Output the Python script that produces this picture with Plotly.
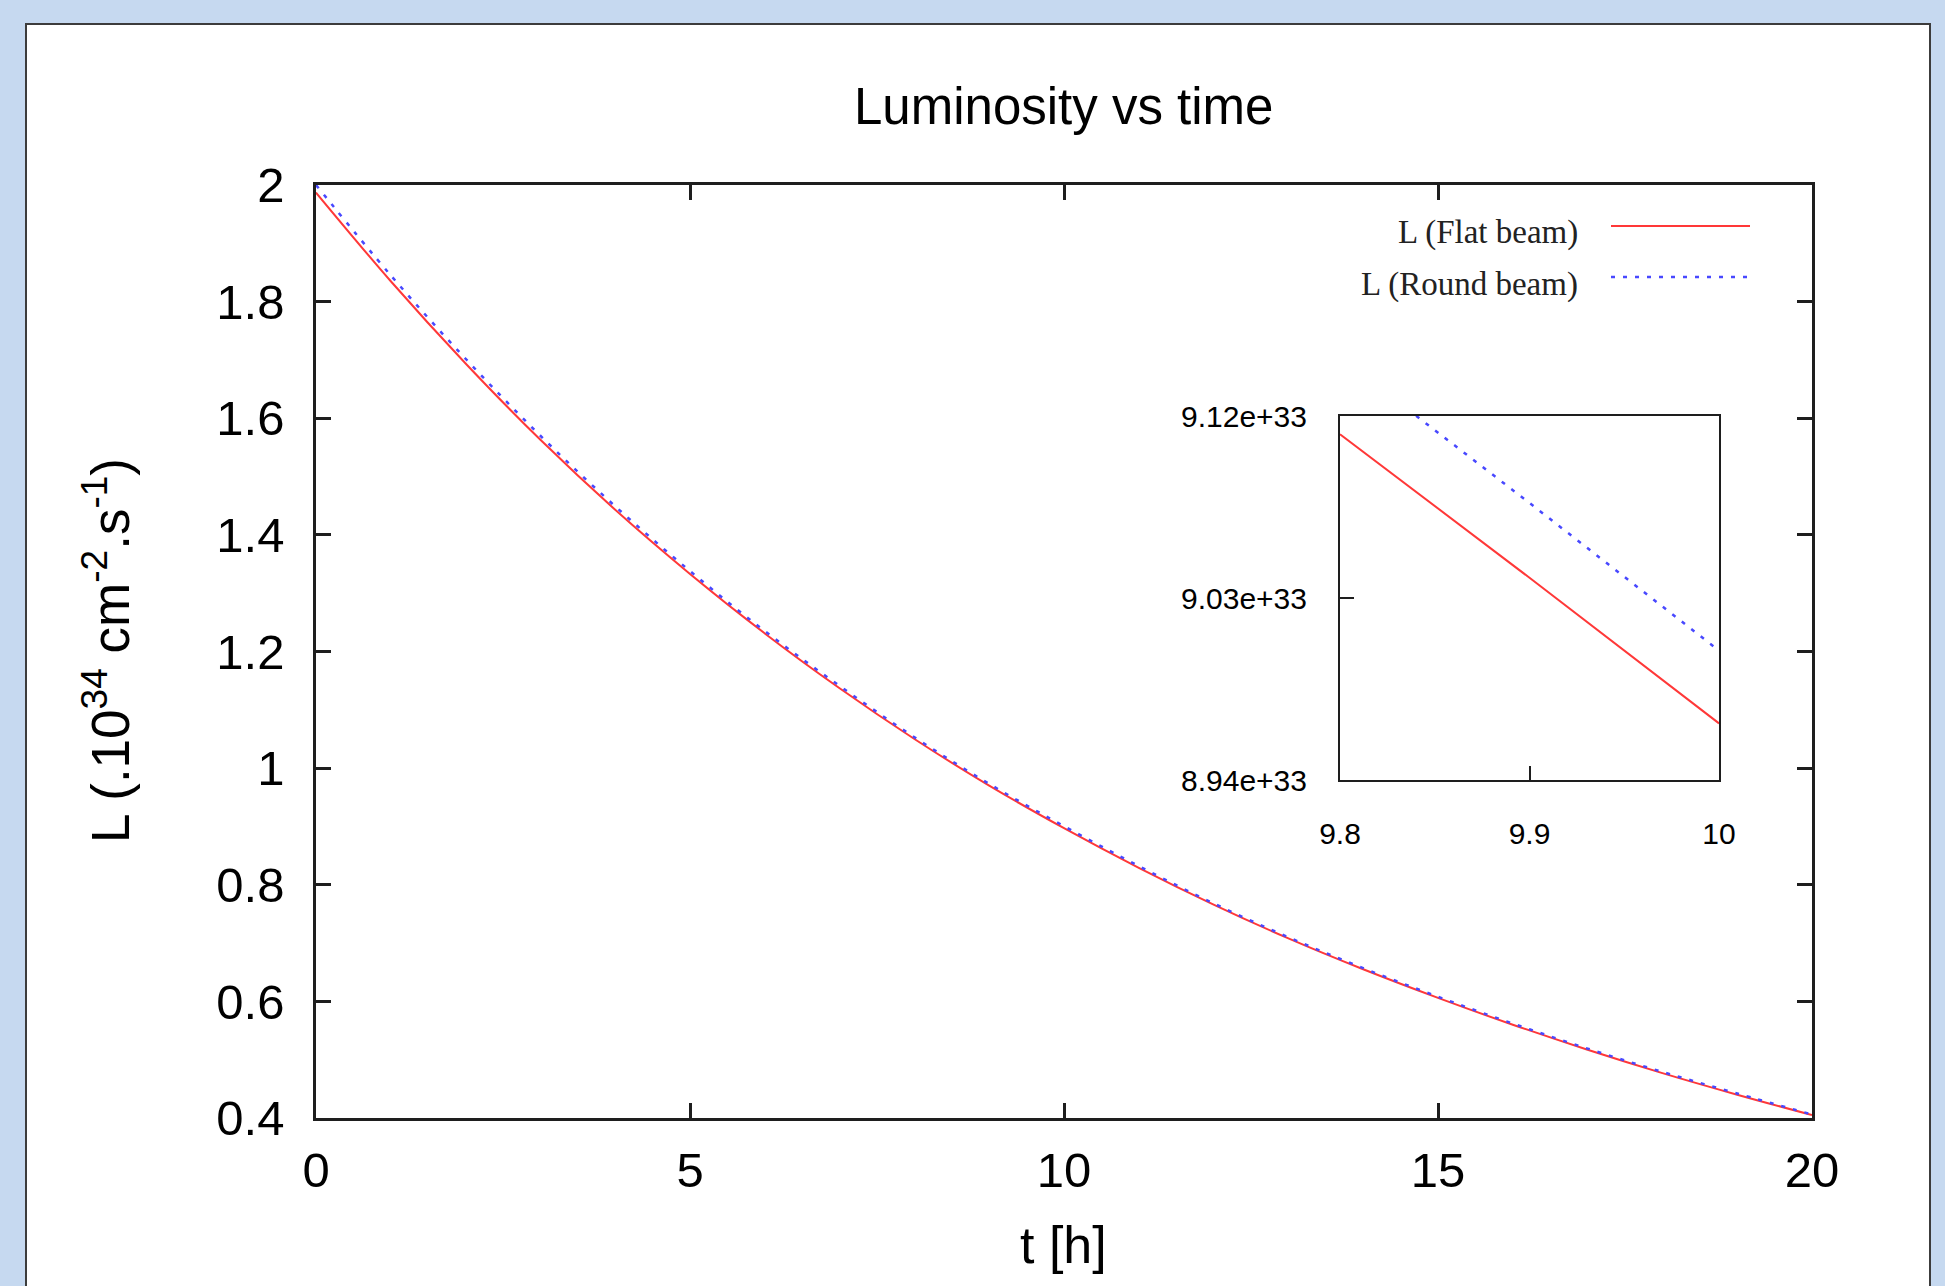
import plotly.graph_objects as go

# ---- data ----
t_hours = [0, 1, 2, 3, 4, 5, 6, 7, 8, 9, 10, 11, 12, 13, 14, 15, 16, 17, 18, 19, 20]
lum_flat = [1.987, 1.835, 1.694, 1.563, 1.443, 1.333, 1.231, 1.137, 1.050, 0.970,
            0.897, 0.829, 0.766, 0.708, 0.655, 0.606, 0.560, 0.517, 0.477, 0.440, 0.405]
lum_round = [2.000, 1.845, 1.702, 1.570, 1.449, 1.338, 1.235, 1.141, 1.053, 0.973,
             0.9005, 0.832, 0.768, 0.710, 0.657, 0.608, 0.562, 0.519, 0.479, 0.442, 0.406]

x_ticks = [0, 5, 10, 15, 20]
y_ticks = [0.4, 0.6, 0.8, 1.0, 1.2, 1.4, 1.6, 1.8, 2.0]
y_tick_text = ["0.4", "0.6", "0.8", "1", "1.2", "1.4", "1.6", "1.8", "2"]

inset_t = [9.8, 9.9, 10.0]
inset_flat = [9.111e33, 9.040e33, 8.968e33]
inset_round = [9.149e33, 9.077e33, 9.004e33]
inset_x_ticks = [9.8, 9.9, 10.0]
inset_x_text = ["9.8", "9.9", "10"]
inset_y_ticks = [8.94e33, 9.03e33, 9.12e33]
inset_y_text = ["8.94e+33", "9.03e+33", "9.12e+33"]

legend_labels = ["L (Flat beam)", "L (Round beam)"]

# ---- layout geometry ----
W, H = 1945, 1286
def px(x):
    return x / W
def py(y):
    return 1 - y / H

RED = "#ff3838"
BLUE = "#4848ff"
AX = "#1e1e1e"
SANS = "Liberation Sans, Arial, Helvetica, sans-serif"
SERIF = "Liberation Serif, Times New Roman, serif"
DOTS = "4px,8px"

fig = go.Figure()
fig.add_trace(go.Scatter(x=t_hours, y=lum_flat, mode="lines", showlegend=False,
                         line=dict(color=RED, width=2, shape="spline"),
                         xaxis="x", yaxis="y"))
fig.add_trace(go.Scatter(x=t_hours, y=lum_round, mode="lines", showlegend=False,
                         line=dict(color=BLUE, width=2.5, dash=DOTS, shape="spline"),
                         xaxis="x", yaxis="y"))
fig.add_trace(go.Scatter(x=inset_t, y=inset_flat, mode="lines", showlegend=False,
                         line=dict(color=RED, width=2),
                         xaxis="x2", yaxis="y2"))
fig.add_trace(go.Scatter(x=inset_t, y=inset_round, mode="lines", showlegend=False,
                         line=dict(color=BLUE, width=2.5, dash=DOTS),
                         xaxis="x2", yaxis="y2"))

common = dict(showgrid=False, zeroline=False, showline=True, linecolor=AX,
              ticks="inside", tickcolor=AX, automargin=False)

fig.update_layout(
    width=W, height=H,
    margin=dict(l=0, r=0, t=0, b=0, autoexpand=False),
    paper_bgcolor="#c6d9f0",
    plot_bgcolor="white",
    showlegend=False,
    xaxis=dict(domain=[px(316), px(1812)], range=[0, 20], anchor="y",
               tickvals=x_ticks, ticklen=15, tickwidth=2.5, linewidth=2.5,
               mirror="ticks", ticklabelstandoff=7,
               tickfont=dict(family=SANS, size=49, color="black"), **common),
    yaxis=dict(domain=[py(1118), py(185)], range=[0.4, 2.0], anchor="x",
               tickvals=y_ticks, ticktext=y_tick_text, ticklen=15, tickwidth=2.5,
               linewidth=2.5, mirror="ticks", ticklabelstandoff=19,
               tickfont=dict(family=SANS, size=49, color="black"), **common),
    xaxis2=dict(domain=[px(1340), px(1719)], range=[9.8, 10.0], anchor="y2",
                tickvals=inset_x_ticks, ticktext=inset_x_text, ticklen=14, tickwidth=2,
                linewidth=2, mirror=True, ticklabelstandoff=26,
                tickfont=dict(family=SANS, size=30, color="black"), **common),
    yaxis2=dict(domain=[py(780), py(416)], range=[8.94e33, 9.12e33], anchor="x2",
                tickvals=inset_y_ticks, ticktext=inset_y_text, ticklen=14, tickwidth=2,
                linewidth=2, mirror=True, ticklabelstandoff=25,
                tickfont=dict(family=SANS, size=30, color="black"), **common),
)

shapes = [
    # white panel with dark border
    dict(type="rect", xref="paper", yref="paper", layer="below",
         x0=px(26), x1=px(1930), y0=py(1320), y1=py(24),
         fillcolor="white", line=dict(color="#3c3c3c", width=2)),
    # legend samples
    dict(type="line", xref="paper", yref="paper", x0=px(1611), x1=px(1750),
         y0=py(226), y1=py(226), line=dict(color=RED, width=2)),
    dict(type="line", xref="paper", yref="paper", x0=px(1611), x1=px(1747),
         y0=py(277), y1=py(277), line=dict(color=BLUE, width=2.5, dash=DOTS)),
]
fig.update_layout(shapes=shapes)

annotations = [
    dict(text="Luminosity vs time", xref="paper", yref="paper", x=px(1063), y=py(106),
         xanchor="center", yanchor="middle", showarrow=False,
         font=dict(family=SANS, size=51, color="black")),
    dict(text="t [h]", xref="paper", yref="paper", x=px(1063), y=py(1245),
         xanchor="center", yanchor="middle", showarrow=False,
         font=dict(family=SANS, size=52, color="black")),
    dict(text="L (.10<sup>34</sup> cm<sup>-2</sup>.s<sup>-1</sup>)", xref="paper", yref="paper",
         x=px(106), y=py(651), xanchor="center", yanchor="middle", textangle=-90,
         showarrow=False, font=dict(family=SANS, size=53, color="black")),
    dict(text=legend_labels[0], xref="paper", yref="paper", x=px(1580), y=py(233),
         xanchor="right", yanchor="middle", showarrow=False,
         font=dict(family=SERIF, size=33, color="#222")),
    dict(text=legend_labels[1], xref="paper", yref="paper", x=px(1580), y=py(284),
         xanchor="right", yanchor="middle", showarrow=False,
         font=dict(family=SERIF, size=33, color="#222")),
]
fig.update_layout(annotations=annotations)

fig.write_html(
    "out.html",
    config={"displayModeBar": False},
    post_script="document.body.style.margin='0';document.body.style.overflow='hidden';"
                "document.body.style.background='#c6d9f0';",
)
